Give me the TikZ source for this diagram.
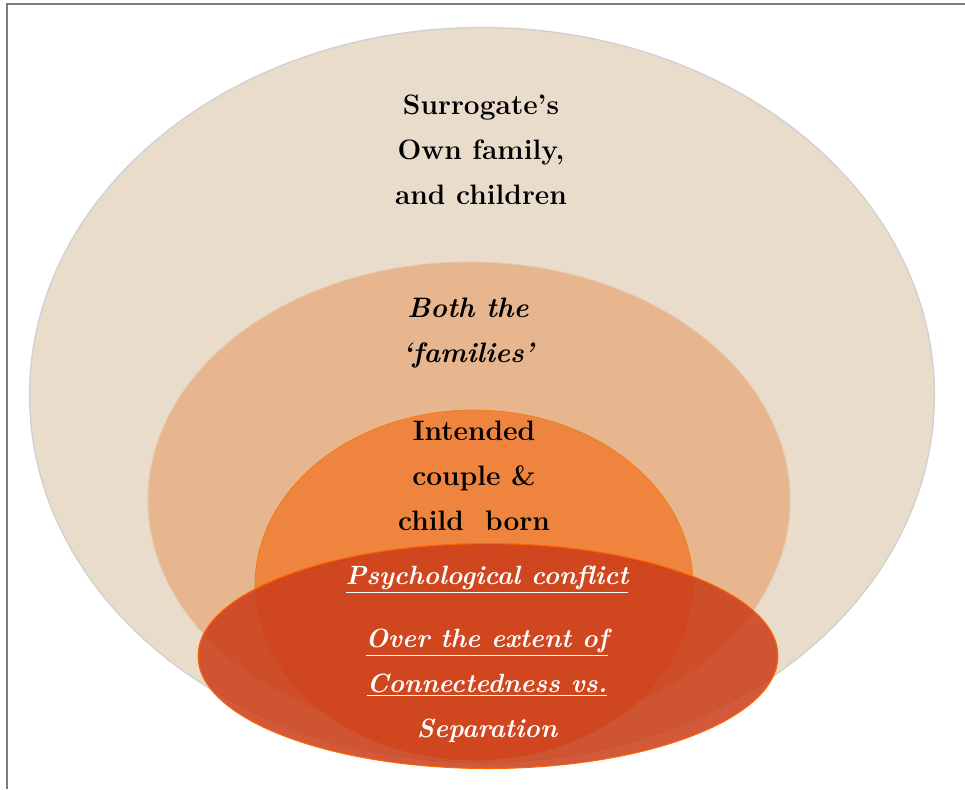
\documentclass[tikz,border=0pt]{standalone}
\usepackage{xcolor}
\usepackage{tikz}
\usetikzlibrary{shapes.geometric}

\definecolor{ownbeige}{HTML}{E9DCCB}
\definecolor{bothtan}{HTML}{E8B68E}
\definecolor{coupleorange}{HTML}{EF843F}
\definecolor{conflictred}{HTML}{CB3E1A}
\definecolor{frame}{HTML}{7A7A7A}

\begin{document}
\begin{tikzpicture}[
x=0.02cm,
y=-0.02cm,
ring/.style={ellipse,inner sep=0pt,outer sep=0pt},
ownring/.style={ring,fill=ownbeige,draw=black!18,line width=0.8pt,minimum width=18.1cm,minimum height=14.7cm},
bothring/.style={ring,fill=bothtan,draw=brown!45,line width=0.5pt,minimum width=12.84cm,minimum height=9.52cm},
couplering/.style={ring,fill=coupleorange,draw=orange!70!brown,line width=0.4pt,minimum width=8.76cm,minimum height=7.0cm},
conflictring/.style={ring,fill=conflictred,fill opacity=0.86,draw=orange!80!red,line width=0.6pt,minimum width=11.6cm,minimum height=4.5cm},
dark/.style={align=center,text=black,font=\fontsize{16}{25.5}\selectfont\bfseries},
darkit/.style={dark,font=\fontsize{16}{25.5}\selectfont\bfseries\itshape},
light/.style={align=center,text=white,font=\fontsize{15}{25.5}\selectfont\bfseries\itshape}
]
\useasboundingbox (0,0) rectangle (965,789);
\draw[frame,line width=1.2pt] (7,789) -- (7,4) -- (965,4);

\node[ownring] (own) at (482,395) {};
\node[bothring] (both) at (469,500) {};
\node[couplering] (couple) at (474,585) {};
\node[conflictring] (conflict) at (488,656) {};

\node[dark] (owntext) at (481,150) {Surrogate's\\Own family,\\and children};
\node[darkit] (bothtext) at (468,333) {Both the\\‘families’};
\node[dark] (coupletext) at (474,476) {Intended\\couple \&\\child\ \ born};
\node[light] (psychtext) at (487,580) {\underline{Psychological conflict}};
\node[light] (overtext) at (487,686) {\underline{Over the extent of}\\\underline{Connectedness vs.}\\Separation};
\end{tikzpicture}
\end{document}
